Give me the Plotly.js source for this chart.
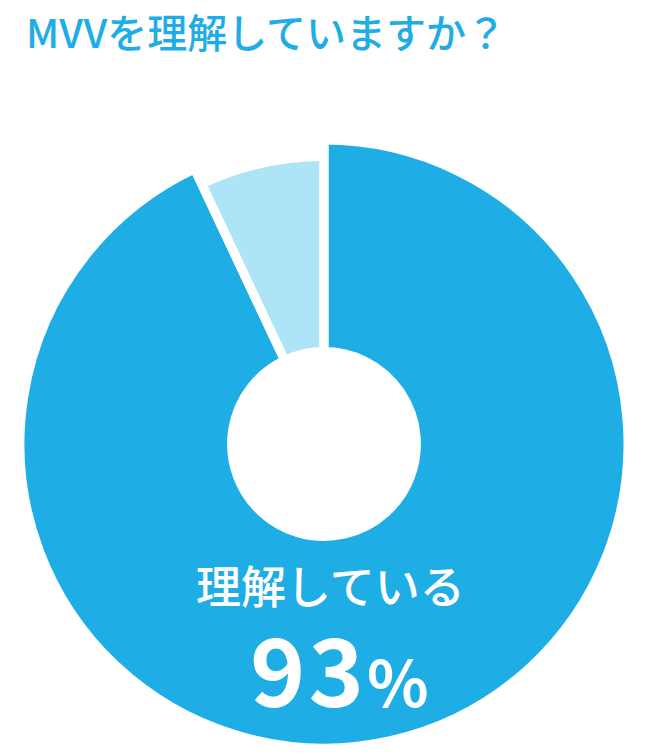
<!DOCTYPE html>
<html>
<head>
<meta charset="utf-8">
<script src="https://cdn.plot.ly/plotly-3.0.1.min.js"></script>
<style>
html,body{margin:0;padding:0;background:#fff;}
#chart{width:648px;height:753px;}
</style>
</head>
<body>
<div id="chart"></div>
<script>
const titleText = "MVVを理解していますか？";
const labels = ["理解している", "理解していない"];
const values = [93, 7];
const colors = ["#1fade5", "#ade4f6"];

const W = 648, H = 753;
const cx = 324, cyTop = 444;
const cy = H - cyTop;
function dom(r){
  return {x:[(cx-r)/W,(cx+r)/W], y:[(cy-r)/H,(cy+r)/H]};
}

// light slice (slightly smaller radius), drawn below
const traceLight = {
  type:'pie', labels:labels, values:values, sort:false, direction:'clockwise', rotation:0,
  marker:{colors:['rgba(0,0,0,0)', colors[1]], line:{width:0}},
  textinfo:'none', hoverinfo:'none', showlegend:false,
  hole:0.33, domain:dom(283)
};
// main slice with white separators
const traceMain = {
  type:'pie', labels:labels, values:values, sort:false, direction:'clockwise', rotation:0,
  marker:{colors:[colors[0], 'rgba(0,0,0,0)'], line:{color:'#ffffff', width:9}},
  textinfo:'none', hoverinfo:'none', showlegend:false,
  hole:0.304, domain:dom(304)
};

const layout = {
  width:W, height:H,
  margin:{l:0,r:0,t:0,b:0},
  paper_bgcolor:'#ffffff', plot_bgcolor:'#ffffff',
  title:{text:titleText, x:26/W, xanchor:'left', xref:'paper', y:1-34/H, yanchor:'middle', yref:'paper',
    font:{family:'Noto Sans CJK JP', size:40, color:'#1fade5', weight:500}},
  annotations:[
    {text:labels[0], x:(cx+6)/W, y:1-584/H, xref:'paper', yref:'paper', showarrow:false,
     xanchor:'center', yanchor:'middle', font:{family:'Noto Sans CJK JP', size:45, color:'#ffffff', weight:500}},
    {text:'<span style="letter-spacing:3px">' + values[0] + '</span><span style="font-size:64px">%</span>', x:(cx+15)/W, y:1-666/H, xref:'paper', yref:'paper', showarrow:false,
     xanchor:'center', yanchor:'middle', font:{family:'Noto Sans CJK JP', size:94, color:'#ffffff', weight:600}}
  ]
};

Plotly.newPlot('chart', [traceLight, traceMain], layout, {displayModeBar:false, staticPlot:true});
</script>
</body>
</html>
